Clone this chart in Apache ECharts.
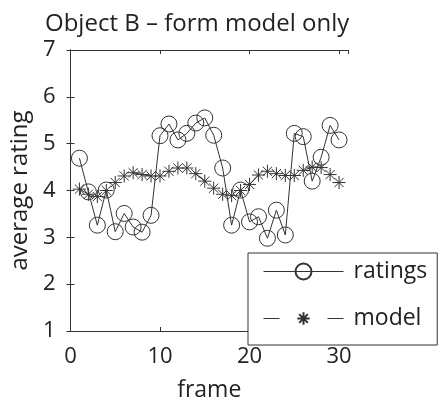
<!DOCTYPE html>
<html>
<head>
<meta charset="utf-8">
<script src="https://cdn.jsdelivr.net/npm/echarts@6/dist/echarts.min.js"></script>
<style>html,body{margin:0;padding:0;background:#fff;}#c{width:441px;height:407px;}</style>
</head>
<body>
<div id="c"></div>
<script>
var titleText = 'Object B \u2013 form model only';
var xName = 'frame';
var yName = 'average rating';
var frames = [1,2,3,4,5,6,7,8,9,10,11,12,13,14,15,16,17,18,19,20,21,22,23,24,25,26,27,28,29,30];
var ratings = [4.69,3.97,3.26,4.01,3.12,3.51,3.22,3.11,3.47,5.17,5.42,5.08,5.22,5.44,5.55,5.18,4.48,3.26,4.01,3.33,3.44,2.98,3.58,3.05,5.22,5.15,4.20,4.71,5.39,5.08];
var model = [4.03,3.92,3.87,4.00,4.17,4.31,4.38,4.34,4.31,4.31,4.41,4.48,4.48,4.36,4.20,4.05,3.92,3.89,4.00,4.13,4.33,4.41,4.36,4.32,4.32,4.43,4.50,4.49,4.34,4.17];
var xTicks = [0,10,20,30];
var yTicks = [1,2,3,4,5,6,7];

var FONT = 'Open Sans';
var INK = '#333';
var TXT = '#222';
var asterisk = 'path://M-13,-13L-13,-13M13,13L13,13M0,-10L0,10M-10,0L10,0M-7.07,-7.07L7.07,7.07M-7.07,7.07L7.07,-7.07';

function pairs(xs, ys){ return xs.map(function(x,i){ return [x, ys[i]]; }); }

var chart = echarts.init(document.getElementById('c'), null, {renderer:'canvas'});
var axisCommon = {
  axisLine:{show:true, lineStyle:{color:INK, width:1}},
  axisTick:{show:true, inside:true, length:4, lineStyle:{color:INK}},
  splitLine:{show:false}
};
chart.setOption({
  animation:false,
  backgroundColor:'#fff',
  title:{text:titleText, left:40, top:7, textStyle:{fontFamily:FONT, fontSize:24, fontWeight:'normal', color:TXT}},
  grid:{left:69, top:50, right:93, bottom:71, containLabel:false},
  xAxis:[
    Object.assign({type:'value', min:0, max:31, interval:10, position:'bottom',
      name:xName, nameLocation:'middle', nameGap:48,
      nameTextStyle:{fontFamily:FONT, fontSize:23, color:TXT},
      axisLabel:{fontFamily:FONT, fontSize:22, color:TXT, margin:15,
        formatter:function(v){ return xTicks.indexOf(v) >= 0 ? String(v) : ''; }}}, axisCommon),
    Object.assign({type:'value', min:0, max:31, interval:10, position:'top', axisLabel:{show:false}}, axisCommon)
  ],
  yAxis:[
    Object.assign({type:'value', min:1, max:7, interval:1, position:'left',
      name:yName, nameLocation:'middle', nameGap:36, nameRotate:90,
      nameTextStyle:{fontFamily:FONT, fontSize:24, color:TXT},
      axisLabel:{fontFamily:FONT, fontSize:22, color:TXT, margin:15,
        formatter:function(v){ return yTicks.indexOf(v) >= 0 ? String(v) : ''; }}}, axisCommon),
    Object.assign({type:'value', min:1, max:7, interval:1, position:'right', axisLabel:{show:false}}, axisCommon)
  ],
  legend:{
    orient:'vertical', left:248, top:253,
    backgroundColor:'#fff', borderColor:INK, borderWidth:1, borderRadius:0,
    padding:[7,10,15,15], itemGap:24, itemWidth:80, itemHeight:20,
    lineStyle:{width:1},
    textStyle:{fontFamily:FONT, fontSize:23, lineHeight:20, color:TXT, padding:[0,0,0,5]},
    data:['ratings','model']
  },
  series:[
    {name:'ratings', type:'line', data:pairs(frames, ratings),
      symbol:'circle', symbolSize:16,
      lineStyle:{color:INK, width:1},
      itemStyle:{color:'rgba(0,0,0,0)', borderColor:INK, borderWidth:1},
      z:3},
    {name:'model', type:'line', data:pairs(frames, model),
      symbol:asterisk, symbolSize:17, symbolKeepAspect:true,
      lineStyle:{color:INK, width:1, type:[16,48]},
      itemStyle:{color:INK, borderColor:INK, borderWidth:1},
      z:2}
  ]
});
</script>
</body>
</html>
